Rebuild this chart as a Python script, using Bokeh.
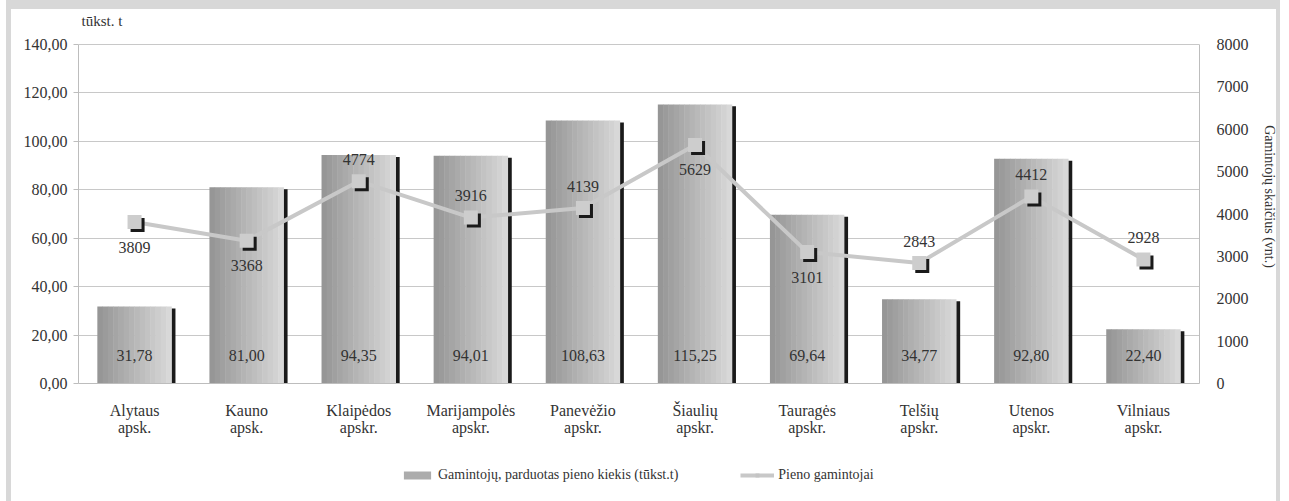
from bokeh.plotting import figure
from bokeh.layouts import column
from bokeh.models import (ColumnDataSource, Range1d, LinearAxis, FixedTicker,
                          Legend, LegendItem)
from bokeh.transform import dodge
from bokeh.core.properties import value
from bokeh.embed import file_html
from bokeh.resources import INLINE

categories = ["Alytaus", "Kauno", "Klaipėdos", "Marijampolės", "Panevėžio",
              "Šiaulių", "Tauragės", "Telšių", "Utenos", "Vilniaus"]
category_suffix = ["apsk.", "apsk.", "apskr.", "apskr.", "apskr.",
                   "apskr.", "apskr.", "apskr.", "apskr.", "apskr."]
milk_sold = [31.78, 81.00, 94.35, 94.01, 108.63, 115.25, 69.64, 34.77, 92.80, 22.40]
producers = [3809, 3368, 4774, 3916, 4139, 5629, 3101, 2843, 4412, 2928]
producer_label_side = [1, 1, -1, -1, -1, 1, 1, -1, -1, -1]  # 1 below, -1 above

left_ticks = [0, 20, 40, 60, 80, 100, 120, 140]
right_ticks = [0, 1000, 2000, 3000, 4000, 5000, 6000, 7000, 8000]
unit_label = "tūkst. t"

FONT = "Liberation Serif, Times New Roman, DejaVu Serif, serif"
TXT = "#333333"
BORDER = "#d8d8d8"
FS = "16px"

# plot frame: 339 px for the axis span plus 35 px of headroom for the unit label
SPAN_PX, HEAD_PX = 339, 35
left_max, right_max = left_ticks[-1], right_ticks[-1]
left_top = left_max * (SPAN_PX + HEAD_PX) / SPAN_PX
right_top = right_max * (SPAN_PX + HEAD_PX) / SPAN_PX

idx = list(range(len(categories)))
src = ColumnDataSource(dict(
    idx=idx, cat=categories, milk=milk_sold, prod=producers,
    milk_lbl=[f"{v:.2f}".replace(".", ",") for v in milk_sold],
    prod_lbl=[str(v) for v in producers],
    prod_off=[(25 if s > 0 else -22) for s in producer_label_side],
    shadow_top=[v - 0.8 for v in milk_sold],
    prod_shadow=[v - 70 for v in producers],
))

p = figure(x_range=Range1d(-0.5, len(categories) - 0.5), y_range=Range1d(0, left_top),
           width=1274, height=443, output_backend="svg", toolbar_location=None,
           min_border_left=67, min_border_right=86, min_border_top=0, min_border_bottom=69)
p.styles = {"border-top": f"9px solid {BORDER}", "border-left": f"5px solid {BORDER}",
            "border-right": f"4px solid {BORDER}", "margin-left": "6px"}
p.outline_line_color = None
p.extra_y_ranges = {"right": Range1d(0, right_top)}

# grid
p.xgrid.grid_line_color = None
p.ygrid.grid_line_color = "#c8c8c8"
p.ygrid.ticker = FixedTicker(ticks=left_ticks)

# left axis
p.yaxis.ticker = FixedTicker(ticks=left_ticks)
p.yaxis.bounds = (0, left_max)
p.yaxis.major_label_overrides = {t: f"{t:.2f}".replace(".", ",") for t in left_ticks}
p.yaxis.axis_line_color = "#bdbdbd"
p.yaxis.major_tick_line_color = "#bdbdbd"
p.yaxis.major_tick_out = 5
p.yaxis.major_tick_in = 0
p.yaxis.minor_tick_line_color = None
p.yaxis.major_label_text_font = FONT
p.yaxis.major_label_text_font_size = FS
p.yaxis.major_label_text_color = TXT
p.yaxis.major_label_standoff = 6

# x axis (first line of category labels)
xa1 = p.xaxis[0]
xa1.ticker = FixedTicker(ticks=idx)
xa1.major_label_overrides = dict(zip(idx, categories))
xa1.axis_line_color = "#bdbdbd"
xa1.major_tick_line_color = None
xa1.minor_tick_line_color = None
xa1.major_label_text_font = FONT
xa1.major_label_text_font_size = FS
xa1.major_label_text_color = TXT
xa1.major_label_standoff = 12

# second line of category labels
xa2 = LinearAxis(ticker=FixedTicker(ticks=idx),
                 major_label_overrides=dict(zip(idx, category_suffix)))
xa2.axis_line_color = None
xa2.major_tick_line_color = None
xa2.minor_tick_line_color = None
xa2.major_label_text_font = FONT
xa2.major_label_text_font_size = FS
xa2.major_label_text_color = TXT
xa2.major_label_standoff = -9
p.add_layout(xa2, "below")

# right axis
ra = LinearAxis(y_range_name="right", ticker=FixedTicker(ticks=right_ticks),
                bounds=(0, right_max), axis_label="Gamintojų skaičius (vnt.)")
ra.axis_line_color = "#bdbdbd"
ra.major_tick_line_color = None
ra.minor_tick_line_color = None
ra.major_label_text_font = FONT
ra.major_label_text_font_size = FS
ra.major_label_text_color = TXT
ra.major_label_standoff = 11
ra.axis_label_text_font = FONT
ra.axis_label_text_font_size = "14px"
ra.axis_label_text_font_style = "normal"
ra.axis_label_text_color = TXT
ra.axis_label_standoff = 10
p.add_layout(ra, "right")

# unit label above the left axis
p.text(x=[-0.5], y=[left_max], text=[unit_label], x_offset=3, y_offset=-24,
       text_font=value(FONT), text_font_size="15px", text_color=TXT,
       text_align="left", text_baseline="middle")

# bar shadows
p.vbar(x=dodge("idx", 0.347), top="shadow_top", width=0.036,
       source=src, fill_color="#1a1a1a", line_color=None)

# bars with gradient strips
n = 14
bw = 0.66
shades = []
for i in range(n):
    t = i / (n - 1)
    c = int(0x96 + (0xd8 - 0x96) * t)
    shades.append("#%02x%02x%02x" % (c, c, c))
for i, col in enumerate(shades):
    off = -bw / 2 + (i + 0.5) * bw / n
    p.vbar(x=dodge("idx", off), top="milk", width=bw / n + 0.004,
           source=src, fill_color=col, line_color=None)

# bar value labels
p.text(x="idx", y=0, text="milk_lbl", source=src, y_offset=-28,
       text_font=value(FONT), text_font_size=FS, text_color=TXT,
       text_align="center", text_baseline="middle")

# producers line
p.line(x="idx", y="prod", source=src, y_range_name="right",
       line_color="#c8c8c8", line_width=4)
p.scatter(x=dodge("idx", 0.027), y="prod_shadow", source=src,
          y_range_name="right", marker="square", size=14,
          fill_color="#1a1a1a", line_color=None)
p.scatter(x="idx", y="prod", source=src, y_range_name="right", marker="square",
          size=14, fill_color="#cdcdcd", line_color=None)
p.text(x="idx", y="prod", text="prod_lbl", source=src, y_range_name="right",
       y_offset="prod_off", text_font=value(FONT), text_font_size=FS,
       text_color=TXT, text_align="center", text_baseline="middle")

# legend strip (separate figure so the legend is not clipped)
lg = figure(width=1274, height=58, output_backend="svg", toolbar_location=None,
            x_range=Range1d(0, 1), y_range=Range1d(0, 1),
            x_axis_type=None, y_axis_type=None,
            min_border_left=0, min_border_right=0, min_border_top=0, min_border_bottom=0)
lg.styles = {"border-left": f"5px solid {BORDER}", "border-right": f"4px solid {BORDER}",
             "margin-left": "6px"}
lg.outline_line_color = None
lg.grid.grid_line_color = None
hidden = ColumnDataSource(dict(x=[-10], y=[-10]))
lb = lg.vbar(x="x", top="y", width=0.1, source=hidden, fill_color="#acacac", line_color=None)
ll = lg.line(x="x", y="y", source=hidden, line_color="#c8c8c8", line_width=4)
lm = lg.scatter(x="x", y="y", source=hidden, marker="square", size=11,
                fill_color="#c4c4c4", line_color=None)
legend = Legend(items=[
    LegendItem(label="Gamintojų, parduotas pieno kiekis (tūkst.t)", renderers=[lb]),
    LegendItem(label="Pieno gamintojai", renderers=[ll, lm]),
], orientation="horizontal", location=(322, 18), border_line_color=None,
    background_fill_alpha=0, label_text_font=FONT, label_text_font_size="14px",
    label_text_color=TXT, glyph_width=34, glyph_height=10, spacing=62,
    label_standoff=4, padding=0, margin=0)
lg.add_layout(legend, "center")

layout = column(p, lg, spacing=0)
open("out.html", "w").write(file_html(layout, INLINE))
